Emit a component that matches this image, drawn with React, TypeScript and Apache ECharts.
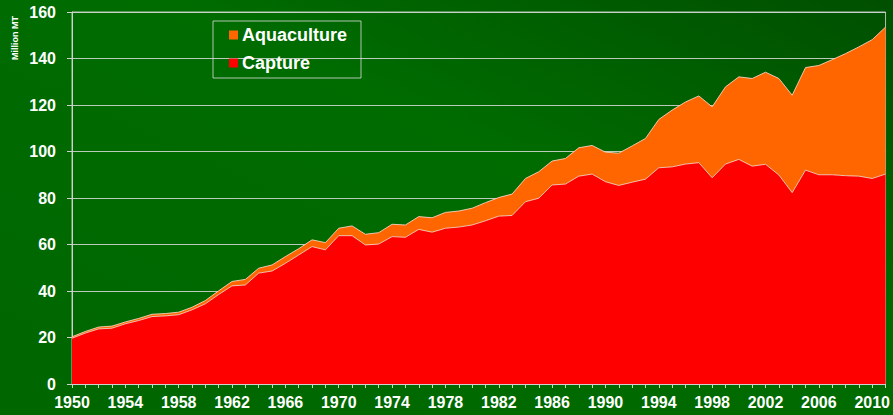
import React, { useEffect, useRef } from "react";
import * as echarts from "echarts";

const years: string[] = [];
for (let y = 1950; y <= 2011; y++) years.push(String(y));

const capture = [
  19.7, 21.9, 23.7, 24.0, 25.9, 27.3, 29.0, 29.3, 29.8, 31.9,
  34.5, 38.5, 42.2, 42.6, 47.7, 48.6, 51.9, 55.5, 59.1, 57.7,
  63.8, 63.8, 59.8, 60.2, 63.4, 63.1, 66.5, 65.3, 67.0, 67.5,
  68.4, 70.2, 72.2, 72.5, 78.4, 79.9, 85.6, 86.0, 89.4, 90.3,
  87.0, 85.4, 86.8, 88.1, 93.0, 93.4, 94.6, 95.2, 88.7, 94.6,
  96.6, 93.7, 94.5, 89.9, 82.3, 92.0, 90.0, 90.0, 89.6, 89.4,
  88.4, 90.3,
];

const aquaculture = [
  0.6, 0.7, 0.8, 0.9, 0.8, 0.9, 1.0, 1.0, 1.1, 1.1,
  1.4, 1.6, 1.9, 2.4, 2.1, 2.6, 2.9, 2.7, 2.9, 3.1,
  3.2, 4.2, 4.6, 4.9, 5.3, 5.3, 5.5, 6.2, 6.8, 6.9,
  7.2, 7.8, 8.0, 9.2, 10.0, 11.4, 10.3, 11.0, 12.2, 12.3,
  12.7, 13.9, 15.6, 17.5, 20.8, 24.4, 26.7, 28.7, 30.5, 33.2,
  35.5, 37.7, 39.6, 41.5, 41.9, 44.1, 47.0, 49.5, 52.5, 55.6,
  59.7, 63.2,
];

const yTicks = [0, 20, 40, 60, 80, 100, 120, 140, 160];

export default function App() {
  const ref = useRef<HTMLDivElement>(null);
  useEffect(() => {
    if (!ref.current) return;
    const chart = echarts.init(ref.current, null, { renderer: "svg" });
    const edge = "rgba(255,215,200,0.85)";
    const font = "Liberation Sans, Arial, sans-serif";
    chart.setOption({
      animation: false,
      backgroundColor: {
        type: "linear",
        x: 0,
        y: 1,
        x2: 1,
        y2: 0,
        colorStops: [
          { offset: 0, color: "#006600" },
          { offset: 0.6, color: "#006c00" },
          { offset: 1, color: "#004f00" },
        ],
      },
      textStyle: { fontFamily: font },
      grid: {
        left: 72,
        right: 3,
        top: 12,
        bottom: 31,
        show: true,
        borderColor: "rgba(220,220,220,0.8)",
        borderWidth: 1,
        backgroundColor: "transparent",
      },
      legend: {
        orient: "vertical",
        left: 213,
        top: 21,
        data: ["Aquaculture", "Capture"],
        icon: "rect",
        itemWidth: 9,
        itemHeight: 9,
        itemGap: 10,
        padding: [5, 14, 6, 16],
        borderColor: "rgba(220,220,220,0.8)",
        borderWidth: 1,
        textStyle: {
          color: "#ffffff",
          fontSize: 18,
          fontWeight: "bold",
          fontFamily: font,
          padding: [0, 0, 0, -1],
        },
      },
      xAxis: {
        type: "category",
        data: years,
        boundaryGap: false,
        axisLine: { lineStyle: { color: "#d0d0d0", width: 1 } },
        axisTick: { show: true, interval: 0, length: 4, lineStyle: { color: "#d0d0d0" } },
        axisLabel: {
          interval: 3,
          color: "#ffffff",
          fontSize: 16,
          fontWeight: "bold",
          margin: 10,
          fontFamily: font,
        },
        splitLine: { show: false },
      },
      yAxis: {
        type: "value",
        min: yTicks[0],
        max: yTicks[yTicks.length - 1],
        interval: 20,
        axisLine: { show: true, lineStyle: { color: "#d0d0d0", width: 1 } },
        axisTick: { show: true, length: 5, lineStyle: { color: "#d0d0d0" } },
        axisLabel: {
          color: "#ffffff",
          fontSize: 16,
          fontWeight: "bold",
          margin: 16,
          fontFamily: font,
        },
        splitLine: { show: true, lineStyle: { color: "rgba(220,220,220,0.85)", width: 1 } },
      },
      graphic: [
        {
          type: "text",
          x: 15,
          y: 38,
          rotation: Math.PI / 2,
          style: {
            text: "Million MT",
            fill: "#ffffff",
            fontSize: 9,
            fontWeight: "bold",
            fontFamily: font,
            textAlign: "center",
            textVerticalAlign: "middle",
          },
        },
      ],
      series: [
        {
          name: "Capture",
          type: "line",
          stack: "total",
          data: capture,
          showSymbol: false,
          symbol: "none",
          itemStyle: { color: "#ff0000" },
          lineStyle: { color: edge, width: 1 },
          areaStyle: { color: "#ff0000", opacity: 1 },
          z: 3,
        },
        {
          name: "Aquaculture",
          type: "line",
          stack: "total",
          data: aquaculture,
          showSymbol: false,
          symbol: "none",
          itemStyle: { color: "#ff6600" },
          lineStyle: { color: edge, width: 1 },
          areaStyle: { color: "#ff6600", opacity: 1 },
          z: 2,
        },
      ],
    });
    return () => chart.dispose();
  }, []);
  return (
    <div
      ref={ref}
      style={{ position: "fixed", left: 0, top: 0, width: 893, height: 415 }}
    />
  );
}
